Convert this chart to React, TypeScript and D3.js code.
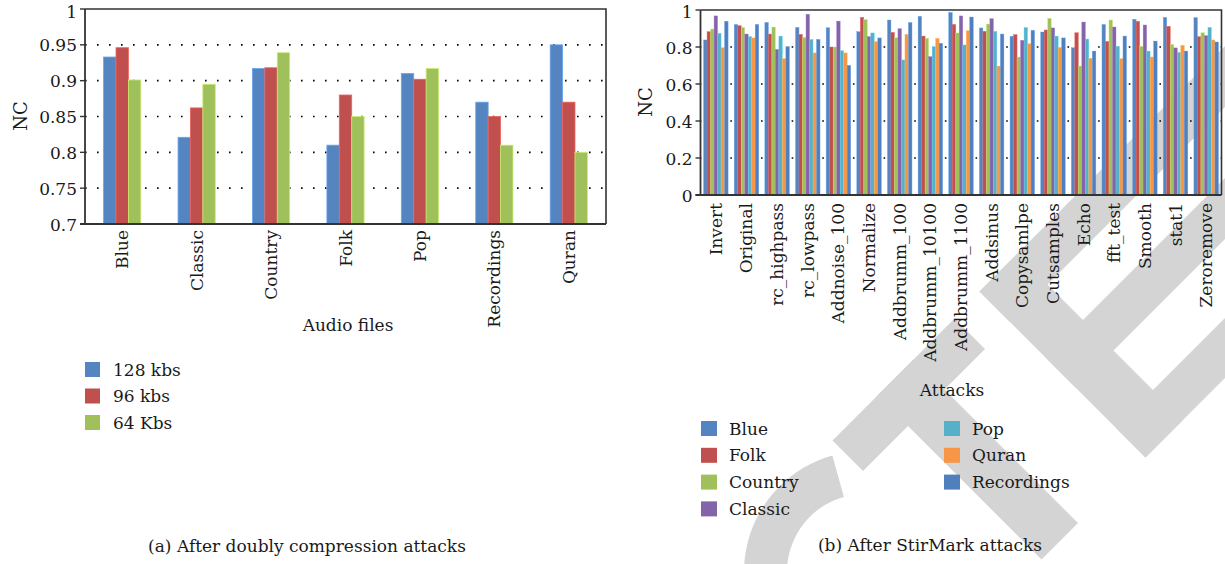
import React from "react";
import * as d3 from "d3";

// ---------- Data: panel (a) ----------
const filesA = ["Blue", "Classic", "Country", "Folk", "Pop", "Recordings", "Quran"];
const seriesA = ["128 kbs", "96 kbs", "64 Kbs"];
const nc128 = [0.933, 0.821, 0.917, 0.81, 0.91, 0.87, 0.95];
const nc96 = [0.946, 0.862, 0.918, 0.88, 0.902, 0.85, 0.87];
const nc64 = [0.901, 0.895, 0.939, 0.85, 0.917, 0.81, 0.8];
const ticksA = [0.7, 0.75, 0.8, 0.85, 0.9, 0.95, 1];
const tickLabelsA = ["0.7", "0.75", "0.8", "0.85", "0.9", "0.95", "1"];

// ---------- Data: panel (b) ----------
const attacks = [
  "Invert", "Original", "rc_highpass", "rc_lowpass", "Addnoise_100", "Normalize",
  "Addbrumm_100", "Addbrumm_10100", "Addbrumm_1100", "Addsinus", "Copysamlpe",
  "Cutsamples", "Echo", "fft_test", "Smooth", "stat1", "Zeroremove",
];
const seriesB = ["Blue", "Folk", "Country", "Classic", "Pop", "Quran", "Recordings"];
const bBlue = [0.838, 0.922, 0.933, 0.906, 0.904, 0.883, 0.946, 0.966, 0.987, 0.903, 0.858, 0.881, 0.796, 0.922, 0.95, 0.96, 0.959];
const bFolk = [0.883, 0.915, 0.87, 0.868, 0.8, 0.96, 0.879, 0.859, 0.922, 0.885, 0.867, 0.892, 0.877, 0.83, 0.939, 0.912, 0.856];
const bCountry = [0.897, 0.906, 0.908, 0.852, 0.8, 0.948, 0.85, 0.847, 0.876, 0.924, 0.746, 0.955, 0.697, 0.946, 0.804, 0.814, 0.877];
const bClassic = [0.968, 0.87, 0.787, 0.977, 0.94, 0.856, 0.899, 0.748, 0.968, 0.953, 0.836, 0.903, 0.935, 0.908, 0.919, 0.795, 0.861];
const bPop = [0.874, 0.856, 0.859, 0.841, 0.78, 0.876, 0.73, 0.802, 0.811, 0.885, 0.906, 0.859, 0.843, 0.804, 0.778, 0.771, 0.906];
const bQuran = [0.796, 0.849, 0.737, 0.768, 0.768, 0.829, 0.868, 0.847, 0.888, 0.697, 0.818, 0.798, 0.739, 0.737, 0.746, 0.809, 0.838];
const bRecordings = [0.939, 0.922, 0.802, 0.841, 0.701, 0.849, 0.932, 0.82, 0.962, 0.87, 0.89, 0.849, 0.778, 0.859, 0.832, 0.778, 0.827];
const ticksB = [0, 0.2, 0.4, 0.6, 0.8, 1];
const tickLabelsB = ["0", "0.2", "0.4", "0.6", "0.8", "1"];

const colorsA = ["#5485c0", "#c0504d", "#a0c05c"];
const colorsB = ["#5485c0", "#c0504d", "#a0c05c", "#8464a8", "#55b0c8", "#f79646", "#4f80bd"];

const FONT = "DejaVu Serif, Liberation Serif, serif";
const FS = 17;
const AXIS = "#333";
const WM = "#d4d4d4";

function Watermark() {
  // letter strokes drawn in rotated (u = x - y, v = x + y) frame
  const rect = (u0: number, u1: number, v0: number, v1: number) => {
    const p = (u: number, v: number) => [(u + v) / 2, (v - u) / 2];
    const pts = [p(u0, v0), p(u1, v0), p(u1, v1), p(u0, v1)];
    return "M" + pts.map((q) => q.join(",")).join("L") + "Z";
  };
  const arcPath = d3.arc()({ innerRadius: 78, outerRadius: 121, startAngle: 1.84, endAngle: 6.01 } as any) || "";
  return (
    <g fill={WM}>
      <path d={arcPath} transform="translate(865,572)" />
      {/* T */}
      <path d={rect(392, 636, 1273, 1334)} />
      <path d={rect(482, 555, 1273, 1601)} />
      {/* E */}
      <path d={rect(688, 763, 1271, 1603)} />
      <path d={rect(688, 1300, 1271, 1332)} />
      <path d={rect(688, 1300, 1403, 1464)} />
      <path d={rect(688, 1300, 1543, 1603)} />
    </g>
  );
}

function PanelA() {
  const x0 = 85, x1 = 606, yTop = 9, yBot = 224;
  const x = d3.scaleBand<string>().domain(filesA).range([x0, x1]).paddingInner(0.5).paddingOuter(0.25);
  const xs = d3.scaleBand<string>().domain(seriesA).range([0, x.bandwidth()]);
  const y = d3.scaleLinear().domain([0.7, 1]).range([yBot, yTop]);
  const data = [nc128, nc96, nc64];
  return (
    <g style={{ fontFamily: FONT }} fill="#1a1a1a">
      {ticksA.slice(1, -1).map((t) => (
        <line key={t} x1={x0} x2={x1} y1={y(t)} y2={y(t)} stroke="#000" strokeWidth={1.6} strokeDasharray="1.6 10.4" strokeDashoffset={-12} />
      ))}
      {filesA.map((f, i) => (
        <g key={f}>
          {seriesA.map((s, j) => (
            <rect key={s} x={(x(f) as number) + (xs(s) as number)} y={y(data[j][i])} width={xs.bandwidth()} height={yBot - y(data[j][i])}
              fill={colorsA[j]} stroke={d3.color(colorsA[j])!.brighter(0.6).toString()} strokeWidth={0.8} />
          ))}
        </g>
      ))}
      <path d={`M${x0},${yTop}H${x1}V${yBot}`} fill="none" stroke={AXIS} strokeWidth={1.6} />
      <line x1={x0} x2={x0} y1={yTop} y2={yBot} stroke={AXIS} strokeWidth={1.8} />
      <line x1={x0 - 5} x2={x1} y1={yBot} y2={yBot} stroke={AXIS} strokeWidth={1.8} />
      {ticksA.map((t, i) => (
        <g key={t}>
          <line x1={x0 - 5} x2={x0} y1={y(t)} y2={y(t)} stroke={AXIS} strokeWidth={1.4} />
          <text x={x0 - 8} y={Math.max(y(t), 11) + 0.5} textAnchor="end" dominantBaseline="central" fontSize={FS}>{tickLabelsA[i]}</text>
        </g>
      ))}
      {filesA.map((f) => (
        <text key={f} transform={`translate(${(x(f) as number) + x.bandwidth() / 2},${yBot + 6}) rotate(-90)`} textAnchor="end" dominantBaseline="central" fontSize={FS}>{f}</text>
      ))}
      <text transform={`translate(20,116) rotate(-90)`} textAnchor="middle" dominantBaseline="central" fontSize={18}>NC</text>
      <text x={348} y={331} textAnchor="middle" fontSize={FS}>Audio files</text>
      {seriesA.map((s, j) => (
        <g key={s}>
          <rect x={85} y={362 + j * 26.5} width={15} height={15} fill={colorsA[j]} />
          <text x={113} y={369.5 + j * 26.5} dominantBaseline="central" fontSize={FS}>{s}</text>
        </g>
      ))}
      <text x={307} y={552} textAnchor="middle" fontSize={FS}>(a) After doubly compression attacks</text>
    </g>
  );
}

function PanelB() {
  const x0 = 700.5, x1 = 1221.5, yTop = 10, yBot = 195;
  const x = d3.scaleBand<string>().domain(attacks).range([x0, x1]).paddingInner(0.2).paddingOuter(0.1);
  const xs = d3.scaleBand<string>().domain(seriesB).range([0, x.bandwidth()]);
  const y = d3.scaleLinear().domain([0, 1]).range([yBot, yTop]);
  const data = [bBlue, bFolk, bCountry, bClassic, bPop, bQuran, bRecordings];
  const step = x.step();
  return (
    <g style={{ fontFamily: FONT }} fill="#1a1a1a">
      {ticksB.slice(1, -1).map((t) => (
        <line key={t} x1={x0} x2={x1} y1={y(t)} y2={y(t)} stroke="#000" strokeWidth={1.6} strokeDasharray={`1.6 ${step - 1.6}`} strokeDashoffset={0.8 - step} />
      ))}
      {attacks.map((a, i) => (
        <g key={a}>
          {seriesB.map((s, j) => (
            <rect key={s} x={(x(a) as number) + (xs(s) as number)} y={y(data[j][i])} width={xs.bandwidth()} height={yBot - y(data[j][i])}
              fill={colorsB[j]} stroke={d3.color(colorsB[j])!.brighter(0.6).toString()} strokeWidth={0.4} />
          ))}
        </g>
      ))}
      <path d={`M${x0},${yTop}H${x1}V${yBot}`} fill="none" stroke={AXIS} strokeWidth={1.6} />
      <line x1={x0} x2={x0} y1={yTop} y2={yBot} stroke={AXIS} strokeWidth={1.8} />
      <line x1={x0 - 5} x2={x1} y1={yBot} y2={yBot} stroke={AXIS} strokeWidth={1.8} />
      {ticksB.map((t, i) => (
        <g key={t}>
          <line x1={x0 - 5} x2={x0} y1={y(t)} y2={y(t)} stroke={AXIS} strokeWidth={1.4} />
          <text x={x0 - 8} y={Math.max(y(t), 11) + 0.5} textAnchor="end" dominantBaseline="central" fontSize={FS}>{tickLabelsB[i]}</text>
        </g>
      ))}
      {attacks.map((a) => (
        <text key={a} transform={`translate(${(x(a) as number) + x.bandwidth() / 2},${yBot + 8}) rotate(-90)`} textAnchor="end" dominantBaseline="central" fontSize={FS}>{a}</text>
      ))}
      <text transform={`translate(645,102) rotate(-90)`} textAnchor="middle" dominantBaseline="central" fontSize={18}>NC</text>
      <text x={952} y={396} textAnchor="middle" fontSize={FS}>Attacks</text>
      {seriesB.map((s, j) => {
        const col = j < 4 ? 0 : 1;
        const row = j < 4 ? j : j - 4;
        const sx = col === 0 ? 701 : 944;
        const cy = 428.5 + row * 26.8;
        return (
          <g key={s}>
            <rect x={sx} y={cy - 7.5} width={16} height={15} fill={colorsB[j]} />
            <text x={sx + 28} y={cy} dominantBaseline="central" fontSize={FS}>{s}</text>
          </g>
        );
      })}
      <text x={930} y={551} textAnchor="middle" fontSize={FS}>(b) After StirMark attacks</text>
    </g>
  );
}

export default function App() {
  return (
    <svg width={1225} height={564} style={{ position: "absolute", left: 0, top: 0, background: "#fff" }}>
      <Watermark />
      <PanelA />
      <PanelB />
    </svg>
  );
}
